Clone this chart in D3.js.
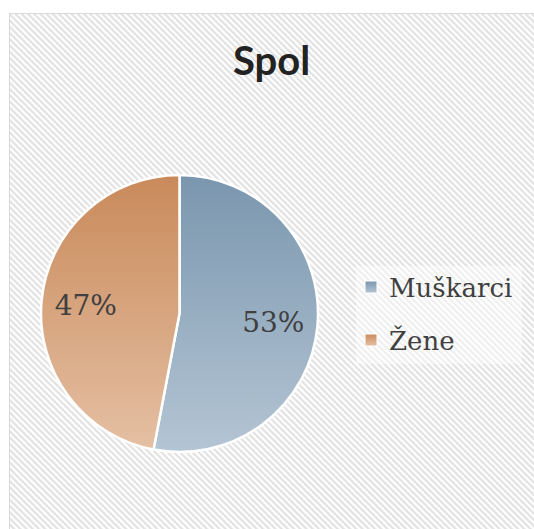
<!DOCTYPE html>
<html>
<head>
<meta charset="utf-8">
<script src="https://cdn.jsdelivr.net/npm/d3@7"></script>
<style>
  body { margin: 0; background: #fff; }
</style>
</head>
<body>
<div id="chart"></div>
<script>
// chart data
const categories = ["Muškarci", "Žene"];
const values = [53, 47];
const labels = ["53%", "47%"];
const title = "Spol";

const width = 534, height = 529;
const frame = {x: 9.5, y: 13.5};
const cx = 179.5, cy = 313.5, r = 138.5;

const svg = d3.select("#chart").append("svg")
    .attr("width", width)
    .attr("height", height);

const defs = svg.append("defs");

// hatch background
const pat = defs.append("pattern")
    .attr("id", "hatch")
    .attr("patternUnits", "userSpaceOnUse")
    .attr("width", 4.4)
    .attr("height", 4.4)
    .attr("patternTransform", "rotate(-45)");
pat.append("rect").attr("width", 4.4).attr("height", 4.4).attr("fill", "#fff");
pat.append("rect").attr("width", 2.2).attr("height", 4.4).attr("fill", "#e2e2e2");

const grads = [
    {id: "gBlue", top: "#7a96ae", bottom: "#b4c5d4"},
    {id: "gOrange", top: "#c98a5a", bottom: "#e5c0a4"}
];
grads.forEach(function(g) {
    const lg = defs.append("linearGradient")
        .attr("id", g.id)
        .attr("gradientUnits", "userSpaceOnUse")
        .attr("x1", 0).attr("y1", -r)
        .attr("x2", 0).attr("y2", r);
    lg.append("stop").attr("offset", 0).attr("stop-color", g.top);
    lg.append("stop").attr("offset", 1).attr("stop-color", g.bottom);
    const lm = defs.append("linearGradient")
        .attr("id", g.id + "m")
        .attr("x1", 0).attr("y1", 0).attr("x2", 0).attr("y2", 1);
    lm.append("stop").attr("offset", 0).attr("stop-color", g.top);
    lm.append("stop").attr("offset", 1).attr("stop-color", g.bottom);
});

svg.append("rect")
    .attr("x", frame.x)
    .attr("y", frame.y)
    .attr("width", width - frame.x + 2)
    .attr("height", height - frame.y + 2)
    .attr("fill", "url(#hatch)")
    .attr("stroke", "#d9d9d9")
    .attr("stroke-width", 1);

svg.append("text")
    .attr("x", 271.5)
    .attr("y", 75)
    .attr("text-anchor", "middle")
    .attr("font-family", "Lato, 'Open Sans', sans-serif")
    .attr("font-weight", "bold")
    .attr("font-size", 40)
    .attr("fill", "#222")
    .text(title);

const pie = d3.pie().sort(null)(values);
const arc = d3.arc().innerRadius(0).outerRadius(r);
const labelArc = d3.arc().innerRadius(r * 0.68).outerRadius(r * 0.68);

const g = svg.append("g").attr("transform", `translate(${cx},${cy})`);

g.selectAll("path")
    .data(pie)
    .enter()
    .append("path")
        .attr("d", arc)
        .attr("fill", function(d, i) { return `url(#${grads[i].id})`; })
        .attr("stroke", "#fff")
        .attr("stroke-width", 2.5)
        .attr("stroke-linejoin", "round");

g.selectAll("text")
    .data(pie)
    .enter()
    .append("text")
        .attr("transform", function(d) { return `translate(${labelArc.centroid(d)})`; })
        .attr("text-anchor", "middle")
        .attr("dy", "0.36em")
        .attr("font-family", "'DejaVu Serif', serif")
        .attr("font-size", 28)
        .attr("fill", "#404040")
        .text(function(d, i) { return labels[i]; });

// legend
svg.append("rect")
    .attr("x", 356).attr("y", 266)
    .attr("width", 166).attr("height", 98)
    .attr("fill", "#fff")
    .attr("opacity", 0.45);

const legend = svg.selectAll(".legend")
    .data(categories)
    .enter()
    .append("g")
        .attr("class", "legend")
        .attr("transform", function(d, i) { return `translate(365,${281 + i * 53})`; });

legend.append("rect")
    .attr("width", 12)
    .attr("height", 12)
    .attr("fill", function(d, i) { return `url(#${grads[i].id}m)`; })
    .attr("stroke", "#fff")
    .attr("stroke-width", 1);

legend.append("text")
    .attr("x", 24)
    .attr("y", 16)
    .attr("font-family", "'DejaVu Serif', serif")
    .attr("font-size", 26)
    .attr("fill", "#404040")
    .text(function(d) { return d; });
</script>
</body>
</html>
